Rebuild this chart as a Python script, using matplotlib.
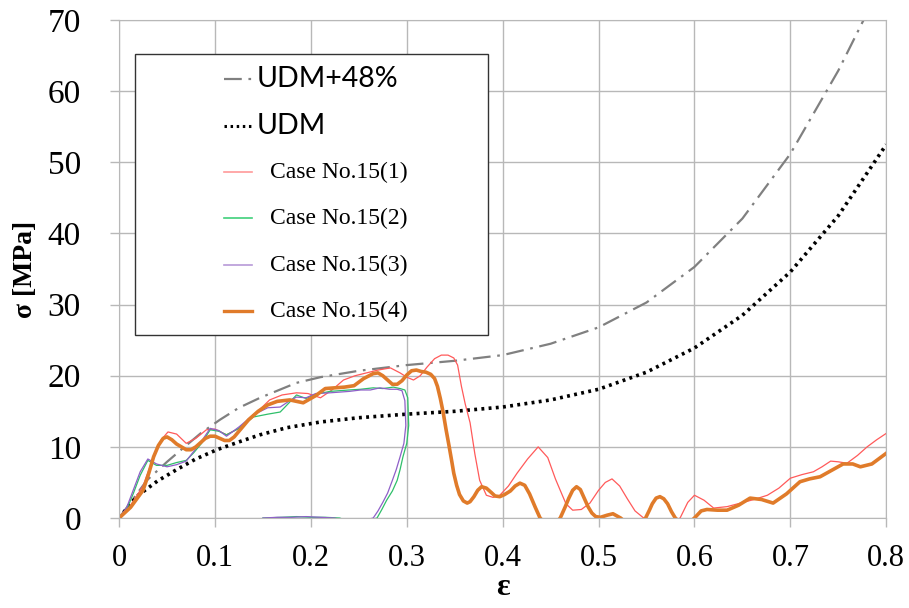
import matplotlib
matplotlib.use("Agg")
import matplotlib.pyplot as plt
from matplotlib.patches import Rectangle

# UDM model curves
udm_x = [0, 0.018, 0.04, 0.06, 0.08, 0.102, 0.125, 0.147, 0.175, 0.21, 0.25, 0.3,
         0.35, 0.4, 0.45, 0.5, 0.55, 0.6, 0.65, 0.7, 0.75, 0.8]
udm_y = [0, 3.0, 5.2, 6.8, 8.3, 9.6, 10.7, 11.7, 12.7, 13.5, 14.1, 14.6,
         15.0, 15.6, 16.6, 18.1, 20.5, 23.9, 28.5, 34.6, 42.5, 52.5]

udm48_x = [0, 0.029, 0.05, 0.07, 0.085, 0.105, 0.125, 0.147, 0.185, 0.21, 0.25, 0.3,
           0.35, 0.4, 0.45, 0.5, 0.55, 0.6, 0.65, 0.7, 0.75, 0.78]
udm48_y = [0, 5.3, 7.9, 10.2, 11.9, 13.8, 15.5, 16.9, 19.0, 19.8, 20.7, 21.5,
           22.1, 22.9, 24.5, 26.8, 30.3, 35.3, 42.1, 51.2, 62.9, 71.0]

# Case No.15 runs
c1_x = [0, 0.012, 0.025, 0.036, 0.044, 0.051, 0.06, 0.07, 0.08, 0.091, 0.1, 0.112, 0.125,
        0.137, 0.147, 0.157, 0.17, 0.185, 0.197, 0.21, 0.222, 0.234, 0.246, 0.258, 0.27,
        0.283, 0.293, 0.3, 0.307, 0.314, 0.321, 0.329, 0.336, 0.343, 0.349, 0.353, 0.357,
        0.361, 0.366, 0.371, 0.376, 0.383, 0.39, 0.397, 0.406, 0.415, 0.426, 0.437, 0.447,
        0.455, 0.46, 0.466, 0.473, 0.482, 0.491, 0.5, 0.507, 0.514, 0.522, 0.53, 0.538,
        0.547, 0.565, 0.585, 0.593, 0.6, 0.61, 0.62, 0.634, 0.648, 0.662, 0.676, 0.688,
        0.7, 0.712, 0.724, 0.733, 0.742, 0.75, 0.759, 0.77, 0.78, 0.79, 0.8]
c1_y = [0, 1.8, 4.5, 8.6, 11.0, 12.1, 11.8, 10.5, 11.2, 12.4, 12.5, 11.7, 12.6,
        14.2, 15.3, 16.6, 17.3, 17.6, 17.5, 16.9, 18.0, 19.4, 20.0, 20.4, 20.8,
        21.1, 20.4, 19.8, 19.4, 20.0, 21.2, 22.4, 22.9, 22.9, 22.5, 21.5, 18.5,
        16.0, 13.4, 9.0, 5.3, 3.2, 2.9, 3.2, 4.5, 6.3, 8.3, 10.0, 8.5,
        5.5, 3.9, 2.0, 1.1, 1.2, 2.1, 3.9, 5.0, 5.5, 4.5, 2.7, 1.0,
        0.0, -1.5, 0.0, 2.2, 3.2, 2.5, 1.4, 1.6, 2.1, 2.6, 3.2, 4.2,
        5.6, 6.1, 6.5, 7.2, 8.0, 7.9, 7.7, 8.8, 10.0, 11.0, 11.9]

c2_x = [0, 0.008, 0.015, 0.022, 0.03, 0.039, 0.05, 0.06, 0.07, 0.078, 0.086, 0.095,
        0.104, 0.112, 0.125, 0.14, 0.155, 0.168, 0.178, 0.185, 0.195, 0.205, 0.22, 0.24,
        0.252, 0.265, 0.275, 0.286, 0.293, 0.298, 0.301, 0.302, 0.300, 0.296, 0.293,
        0.29, 0.285, 0.279, 0.274, 0.269, 0.255, 0.24, 0.23, 0.215, 0.2, 0.185, 0.17, 0.15]
c2_y = [0, 1.2, 3.5, 6.0, 8.1, 7.4, 7.4, 7.8, 8.1, 9.2, 10.5, 12.4,
        12.2, 11.7, 12.6, 14.2, 14.6, 14.9, 16.3, 17.3, 16.8, 17.4, 17.8, 18.0,
        18.1, 18.3, 18.2, 18.4, 18.2, 18.0, 16.9, 13.0, 10.5, 8.6, 6.8,
        5.3, 3.8, 2.5, 1.2, 0.0, -0.5, -0.5, 0.0, 0.1, 0.1, 0.2, 0.1, 0.0]

c3_x = [0, 0.008, 0.015, 0.022, 0.03, 0.039, 0.05, 0.06, 0.07, 0.078, 0.086, 0.095,
        0.104, 0.112, 0.125, 0.14, 0.155, 0.168, 0.178, 0.185, 0.195, 0.205, 0.22, 0.24,
        0.252, 0.262, 0.272, 0.282, 0.29, 0.295, 0.298, 0.299, 0.297, 0.293, 0.289,
        0.285, 0.28, 0.275, 0.27, 0.265, 0.25, 0.235, 0.225, 0.21, 0.195, 0.18, 0.165, 0.15]
c3_y = [0, 1.5, 4.0, 6.5, 8.3, 7.6, 7.2, 7.5, 8.0, 9.4, 10.8, 12.6,
        12.3, 11.5, 12.8, 14.5, 15.5, 15.6, 16.5, 17.0, 16.9, 17.5, 17.6, 17.8,
        18.0, 18.0, 18.3, 18.1, 18.1, 17.9, 16.5, 13.0, 10.5, 8.6, 6.8,
        5.3, 3.5, 2.2, 1.0, 0.0, -0.5, -0.5, 0.0, 0.1, 0.2, 0.1, 0.1, 0.0]

c4_x = [0, 0.012, 0.025, 0.031, 0.036, 0.041, 0.046, 0.05, 0.055, 0.06, 0.065, 0.07, 0.075,
        0.08, 0.085, 0.09, 0.095, 0.1, 0.105, 0.11, 0.115, 0.12,
        0.125, 0.135, 0.145, 0.155, 0.165, 0.178, 0.192, 0.205, 0.215, 0.225, 0.235,
        0.245, 0.255, 0.265, 0.27, 0.275, 0.28, 0.285, 0.29, 0.295, 0.3, 0.305, 0.31,
        0.315, 0.32, 0.325, 0.329, 0.332, 0.335, 0.338,
        0.341, 0.344, 0.347, 0.349, 0.352, 0.355, 0.359, 0.363, 0.366, 0.370, 0.374,
        0.378, 0.383, 0.388, 0.392, 0.397, 0.402, 0.408, 0.413, 0.418, 0.423, 0.428,
        0.434, 0.439, 0.45, 0.46, 0.465, 0.469, 0.473, 0.477, 0.481, 0.485, 0.489,
        0.493, 0.497, 0.502, 0.509, 0.515, 0.523,
        0.536, 0.549, 0.553, 0.556, 0.56, 0.564, 0.568, 0.572, 0.576, 0.58, 0.59, 0.6,
        0.607, 0.613, 0.624, 0.634,
        0.646, 0.658, 0.67, 0.682, 0.696, 0.71, 0.72, 0.731, 0.743, 0.755, 0.765,
        0.773, 0.785, 0.8]
c4_y = [0, 1.5, 3.9, 6.3, 8.6, 10.2, 11.2, 11.4, 11.0, 10.4, 10.0, 9.6, 9.6,
        10.0, 10.6, 11.2, 11.5, 11.5, 11.2, 10.9, 10.9, 11.4,
        12.2, 13.8, 15.0, 15.9, 16.4, 16.6, 16.2, 17.2, 18.2, 18.3, 18.4,
        18.6, 19.6, 20.3, 20.4, 20.0, 19.4, 18.8, 18.8, 19.3, 20.1, 20.7, 20.8,
        20.6, 20.5, 20.2, 19.6, 18.5, 16.8, 14.8,
        12.4, 10.2, 7.9, 6.3, 4.6, 3.3, 2.4, 2.1, 2.3, 3.0, 3.9,
        4.4, 4.2, 3.6, 3.1, 3.0, 3.3, 3.8, 4.5, 4.9, 4.6, 3.4,
        1.5, 0.0, -1.5, 0.0, 1.5, 2.8, 3.9, 4.4, 4.0, 2.8, 1.6,
        0.7, 0.2, 0.1, 0.4, 0.6, 0.0,
        -1.5, 0.0, 1.1, 2.0, 2.8, 3.0, 2.7, 2.0, 0.9, 0.0, -1.2, 0.0,
        1.0, 1.2, 1.1, 1.1,
        1.8, 2.8, 2.6, 2.1, 3.4, 5.1, 5.5, 5.8, 6.7, 7.6, 7.6,
        7.2, 7.6, 9.1]

labels = ['UDM+48%', 'UDM', 'Case No.15(1)', 'Case No.15(2)', 'Case No.15(3)', 'Case No.15(4)']

serif = 'Liberation Serif'
sans = 'Lato'

fig = plt.figure(figsize=(9.09, 6.08), dpi=100)
ax = fig.add_axes([0.131, 0.148, 0.844, 0.819])

ax.plot(udm48_x, udm48_y, color='#808080', lw=1.6, linestyle=(0, (8, 3, 1.2, 3)))
ax.plot(udm_x, udm_y, color='black', lw=2.6, linestyle=(0, (0.8, 1.2)))
ax.plot(c1_x, c1_y, color='#ff5a5a', lw=0.9)
ax.plot(c2_x, c2_y, color='#2fbf6a', lw=0.9)
ax.plot(c3_x, c3_y, color='#8e5fc8', lw=0.9)
ax.plot(c4_x, c4_y, color='#e07b2a', lw=2.6)

ax.set_xlim(0, 0.8)
ax.set_ylim(0, 70)
ax.set_xticks([0, 0.1, 0.2, 0.3, 0.4, 0.5, 0.6, 0.7, 0.8])
ax.set_xticklabels(['0', '0.1', '0.2', '0.3', '0.4', '0.5', '0.6', '0.7', '0.8'])
ax.set_yticks(range(0, 71, 10))
ax.grid(True, color='#b8b8b8', lw=1.0)
ax.set_axisbelow(True)
for s in ax.spines.values():
    s.set_color('#b8b8b8')
ax.tick_params(axis='both', colors='#b8b8b8', labelcolor='black', length=6.5, width=1)
ax.tick_params(axis='y', pad=21)
ax.tick_params(axis='x', pad=12)
for t in ax.get_yticklabels():
    t.set_fontfamily(serif)
    t.set_fontsize(24)
for t in ax.get_xticklabels():
    t.set_fontfamily(serif)
    t.set_fontsize(22)

ax.set_ylabel('σ [MPa]', fontfamily=serif, fontsize=20, fontweight='bold', labelpad=7)
ax.set_xlabel('ε', fontfamily=serif, fontsize=23, fontweight='bold', labelpad=0)

# legend box drawn in axes coordinates
ax.add_patch(Rectangle((0.021, 0.367), 0.46, 0.565, transform=ax.transAxes,
                       facecolor='white', edgecolor='#333333', lw=1.0, zorder=5))
styles = [dict(color='#808080', lw=1.6, linestyle=(0, (8, 3, 1.2, 3))),
          dict(color='black', lw=2.2, linestyle=(0, (0.8, 1.2))),
          dict(color='#ff9a9a', lw=1.2),
          dict(color='#3fcf7a', lw=1.2),
          dict(color='#b89ad8', lw=1.2),
          dict(color='#e07b2a', lw=2.4)]
row_y = [79, 126, 172, 218, 265, 311]
for i, (lab, st) in enumerate(zip(labels, styles)):
    yy = (518 - row_y[i]) / 498
    x0 = (224 - 119) / 767
    x1 = (252 - 119) / 767
    ax.plot([x0, x1], [yy, yy], transform=ax.transAxes, zorder=6, clip_on=False, **st)
    if i < 2:
        ax.text((257 - 119) / 767, yy, lab, transform=ax.transAxes, fontfamily=sans,
                fontsize=20.5, va='center', ha='left', zorder=6)
    else:
        ax.text((270 - 119) / 767, yy, lab, transform=ax.transAxes, fontfamily=serif,
                fontsize=17, va='center', ha='left', zorder=6)

fig.savefig('out.png', dpi=100)
